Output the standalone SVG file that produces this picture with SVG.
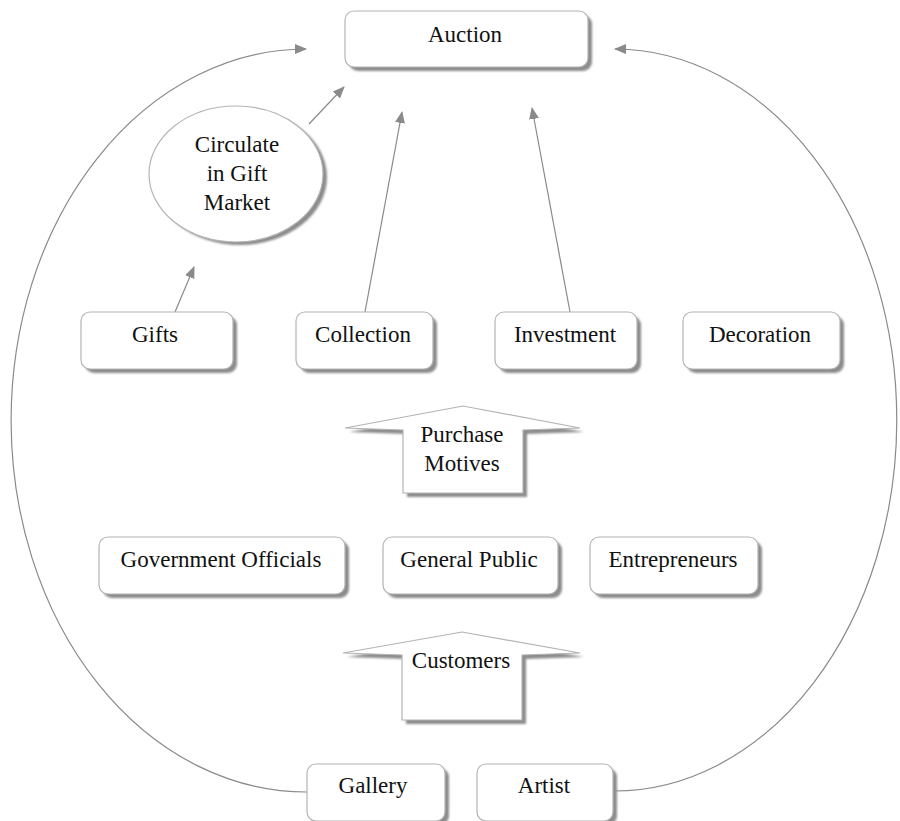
<svg xmlns="http://www.w3.org/2000/svg" width="900" height="821" viewBox="0 0 900 821">
  <style>
    .box { fill: #ffffff; stroke: #b4b4b4; stroke-width: 1.2; }
    .shadow { fill: #8c8c8c; filter: url(#soft); }
    .lbl { font-family: "Liberation Serif", "Times New Roman", serif; font-size: 23px; fill: #111111; text-anchor: middle; }
    .conn { fill: none; stroke: #8a8a8a; stroke-width: 1.2; marker-end: url(#head); }
  </style>
  <defs>
    <filter id="soft" x="-10%" y="-10%" width="120%" height="120%">
      <feGaussianBlur stdDeviation="0.9"/>
    </filter>
    <marker id="head" viewBox="0 0 12 10" refX="11" refY="5" markerWidth="12" markerHeight="10" markerUnits="userSpaceOnUse" orient="auto">
      <path d="M0,0 L12,5 L0,10 Z" fill="#8a8a8a"/>
    </marker>
  </defs>

  <rect width="900" height="821" fill="#ffffff"/>

  <!-- connectors -->
  <g id="connectors">
    <path class="conn" d="M307,792 A295 371 0 0 1 306,49"/>
    <path class="conn" d="M613,791 A282 370 0 0 0 615,49"/>
    <path class="conn" d="M309,124 L344,87"/>
    <path class="conn" d="M175,312 L194,267"/>
    <path class="conn" d="M365,312 L402,112"/>
    <path class="conn" d="M570,312 L532,108"/>
  </g>

  <!-- top: auction -->
  <g id="auction">
    <rect class="shadow" x="349" y="15" width="243" height="56" rx="9"/>
    <rect class="box" x="345" y="11" width="243" height="56" rx="9"/>
    <text class="lbl" x="465" y="42">Auction</text>
  </g>

  <g id="gift-market">
    <ellipse class="shadow" cx="240" cy="177" rx="87" ry="68"/>
    <ellipse class="box" cx="236" cy="174" rx="87" ry="68"/>
    <text class="lbl" x="237" y="152">Circulate</text>
    <text class="lbl" x="237" y="181">in Gift</text>
    <text class="lbl" x="237" y="210">Market</text>
  </g>

  <!-- purchase motives row -->
  <g id="gifts">
    <rect class="shadow" x="85" y="316" width="152" height="57" rx="9"/>
    <rect class="box" x="81" y="312" width="152" height="57" rx="9"/>
    <text class="lbl" x="155" y="342">Gifts</text>
  </g>
  <g id="collection">
    <rect class="shadow" x="300" y="316" width="137" height="57" rx="9"/>
    <rect class="box" x="296" y="312" width="137" height="57" rx="9"/>
    <text class="lbl" x="363" y="342">Collection</text>
  </g>
  <g id="investment">
    <rect class="shadow" x="499" y="316" width="142" height="57" rx="9"/>
    <rect class="box" x="495" y="312" width="142" height="57" rx="9"/>
    <text class="lbl" x="565" y="342">Investment</text>
  </g>
  <g id="decoration">
    <rect class="shadow" x="687" y="316" width="157" height="57" rx="9"/>
    <rect class="box" x="683" y="312" width="157" height="57" rx="9"/>
    <text class="lbl" x="760" y="342">Decoration</text>
  </g>

  <g id="purchase-motives">
    <polygon class="shadow" points="467,410 349,432 407,434 407,497 527,497 527,434 584,432"/>
    <polygon class="box" points="463,406 345,428 403,430 403,493 523,493 523,430 580,428"/>
    <text class="lbl" x="462" y="442">Purchase</text>
    <text class="lbl" x="462" y="471">Motives</text>
  </g>

  <!-- customers row -->
  <g id="government-officials">
    <rect class="shadow" x="103" y="541" width="246" height="57" rx="9"/>
    <rect class="box" x="99" y="537" width="246" height="57" rx="9"/>
    <text class="lbl" x="221" y="567">Government Officials</text>
  </g>
  <g id="general-public">
    <rect class="shadow" x="387" y="541" width="175" height="57" rx="9"/>
    <rect class="box" x="383" y="537" width="175" height="57" rx="9"/>
    <text class="lbl" x="469" y="567">General Public</text>
  </g>
  <g id="entrepreneurs">
    <rect class="shadow" x="594" y="541" width="168" height="57" rx="9"/>
    <rect class="box" x="590" y="537" width="168" height="57" rx="9"/>
    <text class="lbl" x="673" y="567">Entrepreneurs</text>
  </g>

  <g id="customers">
    <polygon class="shadow" points="466,636 347,657 406,659 406,724 526,724 526,659 584,657"/>
    <polygon class="box" points="462,632 343,653 402,655 402,720 522,720 522,655 580,653"/>
    <text class="lbl" x="461" y="668">Customers</text>
  </g>

  <!-- sources -->
  <g id="gallery">
    <rect class="shadow" x="311" y="768" width="138" height="57" rx="9"/>
    <rect class="box" x="307" y="764" width="138" height="57" rx="9"/>
    <text class="lbl" x="373" y="793">Gallery</text>
  </g>
  <g id="artist">
    <rect class="shadow" x="481" y="768" width="136" height="57" rx="9"/>
    <rect class="box" x="477" y="764" width="136" height="57" rx="9"/>
    <text class="lbl" x="544" y="793">Artist</text>
  </g>
</svg>
